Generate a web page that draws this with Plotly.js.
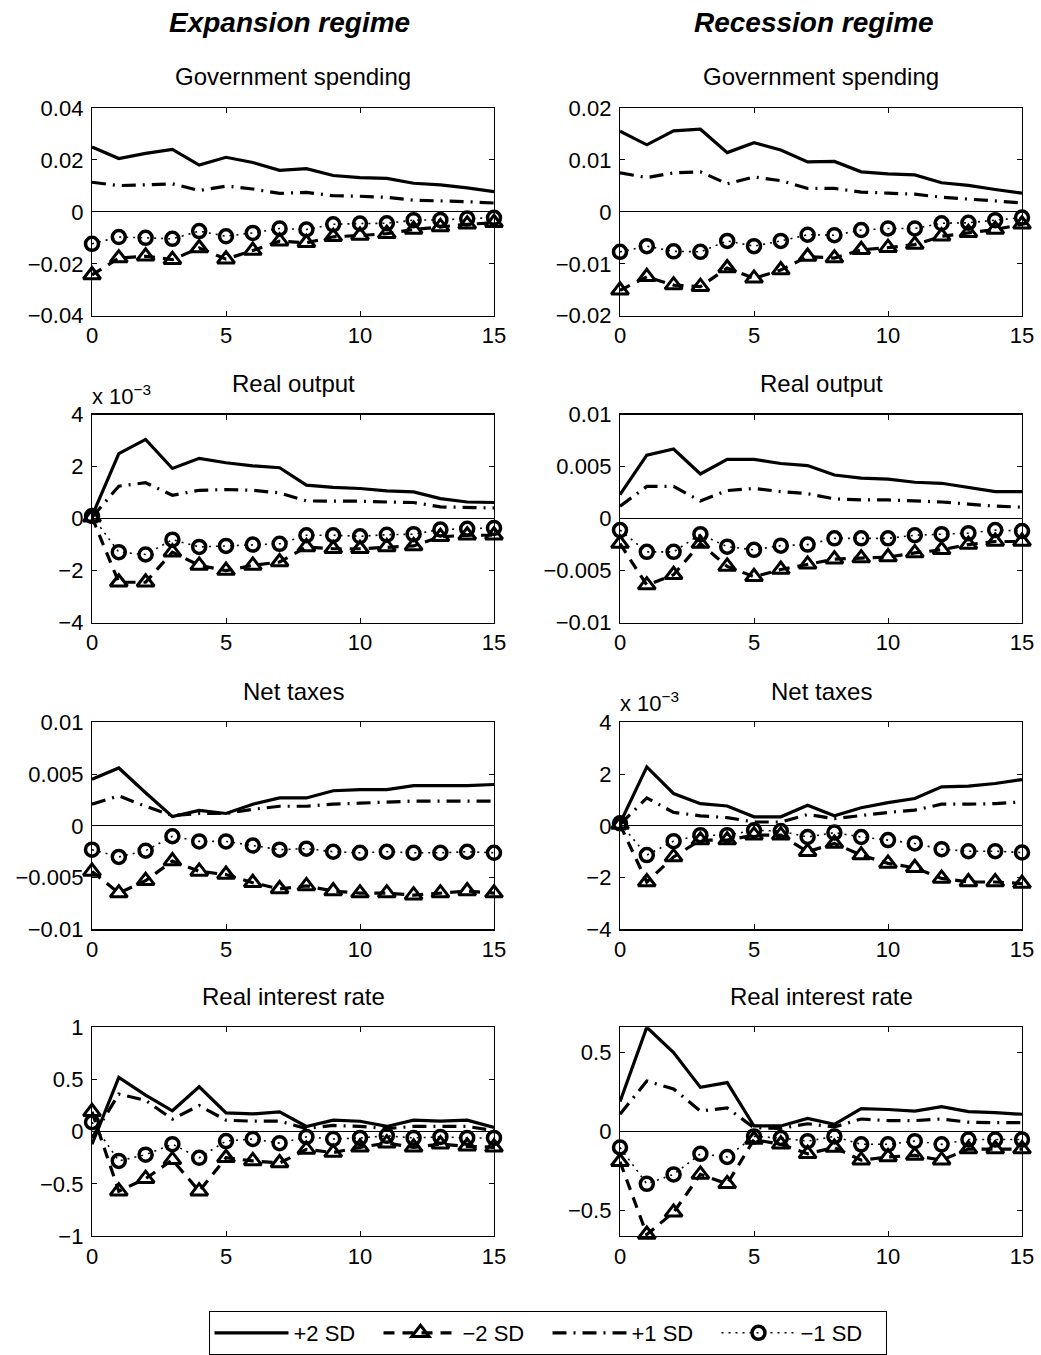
<!DOCTYPE html>
<html>
<head>
<meta charset="utf-8">
<script src="https://cdn.plot.ly/plotly-3.0.1.min.js"></script>
<style>html,body{margin:0;padding:0;background:#fff;}#chart{width:1041px;height:1355px;}</style>
</head>
<body>
<div id="chart"></div>
<script>
// horizon
const horizon = [0,1,2,3,4,5,6,7,8,9,10,11,12,13,14,15];
const seriesNames = ['+2 SD', '\u22122 SD', '+1 SD', '\u22121 SD'];
const columnTitles = ['Expansion regime', 'Recession regime'];
const panelTitles = ['Government spending', 'Real output', 'Net taxes', 'Real interest rate'];

// Expansion – Government spending
const expGovP2 = [0.025,0.0205,0.0225,0.024,0.018,0.021,0.019,0.016,0.0166,0.014,0.0132,0.0129,0.011,0.0104,0.0092,0.0078];
const expGovM2 = [-0.0243,-0.0178,-0.0171,-0.0184,-0.0139,-0.0182,-0.0149,-0.0113,-0.0119,-0.0096,-0.0091,-0.0084,-0.0068,-0.0058,-0.0048,-0.0042];
const expGovP1 = [0.0114,0.0101,0.0104,0.0108,0.0082,0.0099,0.0088,0.0071,0.0075,0.0062,0.006,0.0056,0.0045,0.0043,0.0039,0.0034];
const expGovM1 = [-0.0123,-0.0097,-0.01,-0.0104,-0.0074,-0.0094,-0.0081,-0.0064,-0.0068,-0.0048,-0.0045,-0.0044,-0.0032,-0.0031,-0.0026,-0.0023];
// Recession – Government spending
const recGovP2 = [0.0155,0.0129,0.0156,0.0159,0.0114,0.0133,0.0119,0.0096,0.0097,0.0077,0.0073,0.0071,0.0056,0.0051,0.0043,0.0036];
const recGovM2 = [-0.0151,-0.0125,-0.0141,-0.0144,-0.0108,-0.0128,-0.0112,-0.0086,-0.0089,-0.0073,-0.0069,-0.0063,-0.0047,-0.004,-0.0034,-0.0024];
const recGovP1 = [0.0075,0.0066,0.0075,0.0077,0.0054,0.0067,0.006,0.0045,0.0045,0.0038,0.0036,0.0034,0.0028,0.0025,0.0021,0.0017];
const recGovM1 = [-0.0077,-0.0066,-0.0076,-0.0077,-0.0056,-0.0066,-0.0056,-0.0044,-0.0045,-0.0035,-0.0032,-0.0032,-0.0022,-0.0021,-0.0016,-0.0011];
// Expansion – Real output (x 10^-3)
const expOutP2 = [0.1,2.5,3.05,1.93,2.32,2.15,2.03,1.96,1.29,1.2,1.16,1.07,1.03,0.77,0.64,0.62];
const expOutM2 = [0.05,-2.45,-2.45,-1.29,-1.8,-2.0,-1.8,-1.67,-1.09,-1.16,-1.16,-1.09,-1.05,-0.7,-0.64,-0.64];
const expOutP1 = [0.05,1.25,1.38,0.9,1.09,1.12,1.09,0.99,0.68,0.68,0.67,0.64,0.62,0.45,0.42,0.41];
const expOutM1 = [0.1,-1.29,-1.38,-0.81,-1.09,-1.05,-1.0,-0.97,-0.64,-0.64,-0.68,-0.62,-0.6,-0.42,-0.39,-0.36];
// Recession – Real output
const recOutP2 = [0.0023,0.0061,0.0067,0.0043,0.0057,0.0057,0.0053,0.0051,0.0042,0.0039,0.0038,0.0035,0.0034,0.003,0.0026,0.0026];
const recOutM2 = [-0.0024,-0.0064,-0.0054,-0.0024,-0.0046,-0.0056,-0.0049,-0.0044,-0.0039,-0.0038,-0.0037,-0.0033,-0.003,-0.0025,-0.0022,-0.0022];
const recOutP1 = [0.0012,0.0031,0.0031,0.0017,0.0027,0.0029,0.0026,0.0024,0.0019,0.0018,0.0018,0.0017,0.0016,0.0014,0.0012,0.0011];
const recOutM1 = [-0.0011,-0.0032,-0.0032,-0.0015,-0.0027,-0.003,-0.0026,-0.0025,-0.0019,-0.0019,-0.0019,-0.0016,-0.0015,-0.0014,-0.0011,-0.0012];
// Expansion – Net taxes
const expTaxP2 = [0.0045,0.0056,0.0032,0.0009,0.0015,0.0012,0.0021,0.0027,0.0027,0.0034,0.0035,0.0035,0.0039,0.0039,0.0039,0.004];
const expTaxM2 = [-0.0044,-0.0065,-0.0053,-0.0034,-0.0044,-0.0047,-0.0055,-0.0061,-0.0058,-0.0063,-0.0065,-0.0065,-0.0067,-0.0065,-0.0063,-0.0065];
const expTaxP1 = [0.0021,0.0029,0.0019,0.001,0.0012,0.0012,0.0016,0.0019,0.0019,0.0021,0.0022,0.0023,0.0024,0.0024,0.0024,0.0024];
const expTaxM1 = [-0.0023,-0.003,-0.0024,-0.001,-0.0015,-0.0015,-0.0019,-0.0023,-0.0022,-0.0025,-0.0026,-0.0025,-0.0026,-0.0026,-0.0025,-0.0026];
// Recession – Net taxes (x 10^-3)
const recTaxP2 = [0.1,2.28,1.25,0.86,0.77,0.35,0.35,0.8,0.39,0.7,0.9,1.06,1.51,1.54,1.64,1.79];
const recTaxM2 = [0.05,-2.17,-1.2,-0.55,-0.55,-0.36,-0.36,-1.0,-0.68,-1.13,-1.45,-1.62,-2.03,-2.17,-2.17,-2.23];
const recTaxP1 = [0.05,1.08,0.52,0.39,0.32,0.15,0.15,0.44,0.28,0.41,0.52,0.61,0.84,0.84,0.86,0.93];
const recTaxM1 = [0.1,-1.13,-0.59,-0.36,-0.36,-0.17,-0.2,-0.43,-0.26,-0.43,-0.55,-0.68,-0.9,-0.98,-0.98,-1.03];
// Expansion – Real interest rate
const expRateP2 = [-0.12,0.52,0.35,0.2,0.43,0.18,0.17,0.19,0.05,0.11,0.1,0.05,0.11,0.1,0.11,0.04];
const expRateM2 = [0.19,-0.57,-0.45,-0.27,-0.57,-0.25,-0.28,-0.3,-0.17,-0.2,-0.15,-0.11,-0.15,-0.12,-0.14,-0.15];
const expRateP1 = [-0.06,0.36,0.3,0.12,0.25,0.11,0.1,0.1,0.03,0.06,0.05,0.03,0.05,0.05,0.05,0.01];
const expRateM1 = [0.09,-0.28,-0.22,-0.12,-0.25,-0.09,-0.07,-0.11,-0.05,-0.07,-0.06,-0.04,-0.06,-0.05,-0.06,-0.06];
// Recession – Real interest rate
const recRateP2 = [0.19,0.66,0.5,0.28,0.31,0.036,0.036,0.084,0.046,0.146,0.14,0.13,0.158,0.127,0.12,0.11];
const recRateM2 = [-0.19,-0.65,-0.51,-0.27,-0.33,-0.05,-0.08,-0.14,-0.1,-0.18,-0.16,-0.15,-0.18,-0.11,-0.11,-0.11];
const recRateP1 = [0.11,0.32,0.27,0.13,0.15,0.025,0.02,0.05,0.03,0.08,0.07,0.07,0.08,0.06,0.057,0.057];
const recRateM1 = [-0.1,-0.33,-0.27,-0.14,-0.16,-0.03,-0.04,-0.06,-0.03,-0.08,-0.08,-0.06,-0.08,-0.05,-0.05,-0.05];

// tick labels
const xTickVals = [0,5,10,15];
const xTickText = ['0','5','10','15'];
const yTickVals = [
  [-0.04,-0.02,0,0.02,0.04], [-0.02,-0.01,0,0.01,0.02],
  [-4,-2,0,2,4], [-0.01,-0.005,0,0.005,0.01],
  [-0.01,-0.005,0,0.005,0.01], [-4,-2,0,2,4],
  [-1,-0.5,0,0.5,1], [-0.5,0,0.5]
];
const yTickText = [
  ['\u22120.04','\u22120.02','0','0.02','0.04'], ['\u22120.02','\u22120.01','0','0.01','0.02'],
  ['\u22124','\u22122','0','2','4'], ['\u22120.01','\u22120.005','0','0.005','0.01'],
  ['\u22120.01','\u22120.005','0','0.005','0.01'], ['\u22124','\u22122','0','2','4'],
  ['\u22121','\u22120.5','0','0.5','1'], ['\u22120.5','0','0.5']
];
const yRanges = [[-0.04,0.04],[-0.02,0.02],[-4,4],[-0.01,0.01],[-0.01,0.01],[-4,4],[-1,1],[-0.66,0.66]];
const scaledPanels = [2, 5]; // panels with "x 10^-3"

const panels = [
  [expGovP2, expGovM2, expGovP1, expGovM1], [recGovP2, recGovM2, recGovP1, recGovM1],
  [expOutP2, expOutM2, expOutP1, expOutM1], [recOutP2, recOutM2, recOutP1, recOutM1],
  [expTaxP2, expTaxM2, expTaxP1, expTaxM1], [recTaxP2, recTaxM2, recTaxP1, recTaxM1],
  [expRateP2, expRateM2, expRateP1, expRateM1], [recRateP2, recRateM2, recRateP1, recRateM1]
];

const W = 1041, H = 1355;
const colPx = [[92, 494], [620, 1022]];
const rowPx = [[108, 316], [415, 623], [723, 930], [1028, 1237]];
const FONT = 'Liberation Sans, Arial, Helvetica, sans-serif';
const TICK = 22, TITLE = 24;

const styles = [
  {mode: 'lines', line: {color: '#000', width: 3.2, dash: 'solid'}},
  {mode: 'lines+markers', line: {color: '#000', width: 3.2, dash: '11px,8px'},
   marker: {symbol: 'triangle-up-open', size: 15, color: '#000', line: {color: '#000', width: 3}}},
  {mode: 'lines', line: {color: '#000', width: 3.2, dash: '14px,7px,2px,7px'}},
  {mode: 'lines+markers', line: {color: '#000', width: 1.6, dash: '2px,5px'},
   marker: {symbol: 'circle-open', size: 13, color: '#000', line: {color: '#000', width: 3.5}}}
];

const traces = [];
const layout = {
  width: W, height: H,
  margin: {l: 0, r: 0, t: 0, b: 0},
  paper_bgcolor: '#fff', plot_bgcolor: '#fff',
  font: {family: FONT, size: TICK, color: '#000'},
  showlegend: true,
  legend: {
    orientation: 'h', x: 547.5 / W, xanchor: 'center', y: 1 - 1312 / H, yanchor: 'top',
    bordercolor: '#000', borderwidth: 1, bgcolor: '#fff',
    font: {family: FONT, size: 22, color: '#000'}, itemwidth: 74, tracegroupgap: 0,
    entrywidth: 80, entrywidthmode: 'pixels'
  },
  annotations: [], shapes: []
};

panels.forEach((series, i) => {
  const r = Math.floor(i / 2), c = i % 2;
  const idx = i + 1;
  const xa = 'xaxis' + (idx === 1 ? '' : idx), ya = 'yaxis' + (idx === 1 ? '' : idx);
  const xr = 'x' + (idx === 1 ? '' : idx), yr = 'y' + (idx === 1 ? '' : idx);
  series.forEach((vals, k) => {
    traces.push(Object.assign({
      type: 'scatter', x: horizon, y: vals, xaxis: xr, yaxis: yr,
      name: seriesNames[k], showlegend: i === 0, cliponaxis: false, hoverinfo: 'skip'
    }, JSON.parse(JSON.stringify(styles[k]))));
  });
  layout[xa] = {
    domain: [colPx[c][0] / W, colPx[c][1] / W], anchor: yr,
    range: [0, 15], tickvals: xTickVals, ticktext: xTickText,
    ticks: 'inside', ticklen: 5, tickwidth: 1, tickcolor: '#000',
    showline: true, linecolor: '#000', linewidth: 1.2, mirror: 'ticks',
    showgrid: false, zeroline: false, fixedrange: true,
    tickfont: {family: FONT, size: TICK, color: '#000'}
  };
  layout[ya] = {
    domain: [1 - rowPx[r][1] / H, 1 - rowPx[r][0] / H], anchor: xr,
    range: yRanges[i], tickvals: yTickVals[i], ticktext: yTickText[i],
    ticks: 'inside', ticklen: 5, tickwidth: 1, tickcolor: '#000',
    showline: true, linecolor: '#000', linewidth: 1.2, mirror: 'ticks',
    showgrid: false, zeroline: true, zerolinecolor: '#000', zerolinewidth: 1.2,
    fixedrange: true, ticklabelstandoff: 3,
    tickfont: {family: FONT, size: TICK, color: '#000'}
  };
  // panel title
  layout.annotations.push({
    xref: 'paper', yref: 'paper', x: (colPx[c][0] + colPx[c][1]) / 2 / W,
    y: 1 - (rowPx[r][0] - 31) / H, xanchor: 'center', yanchor: 'middle',
    text: panelTitles[r], showarrow: false, font: {family: FONT, size: TITLE, color: '#000'}
  });
  if (scaledPanels.includes(i)) {
    layout.annotations.push({
      xref: 'paper', yref: 'paper', x: (colPx[c][0] - 2) / W,
      y: 1 - (rowPx[r][0] - 4) / H, xanchor: 'left', yanchor: 'bottom',
      text: 'x 10<sup>\u22123</sup>', showarrow: false,
      font: {family: FONT, size: TICK, color: '#000'}
    });
  }
});

// column headings
[289, 814].forEach((cx, c) => {
  layout.annotations.push({
    xref: 'paper', yref: 'paper', x: cx / W, y: 1 - 23 / H,
    xanchor: 'center', yanchor: 'middle', showarrow: false,
    text: '<b><i>' + columnTitles[c] + '</i></b>',
    font: {family: FONT, size: 28, color: '#000'}
  });
});

Plotly.newPlot('chart', traces, layout, {displayModeBar: false, staticPlot: true});
</script>
</body>
</html>
